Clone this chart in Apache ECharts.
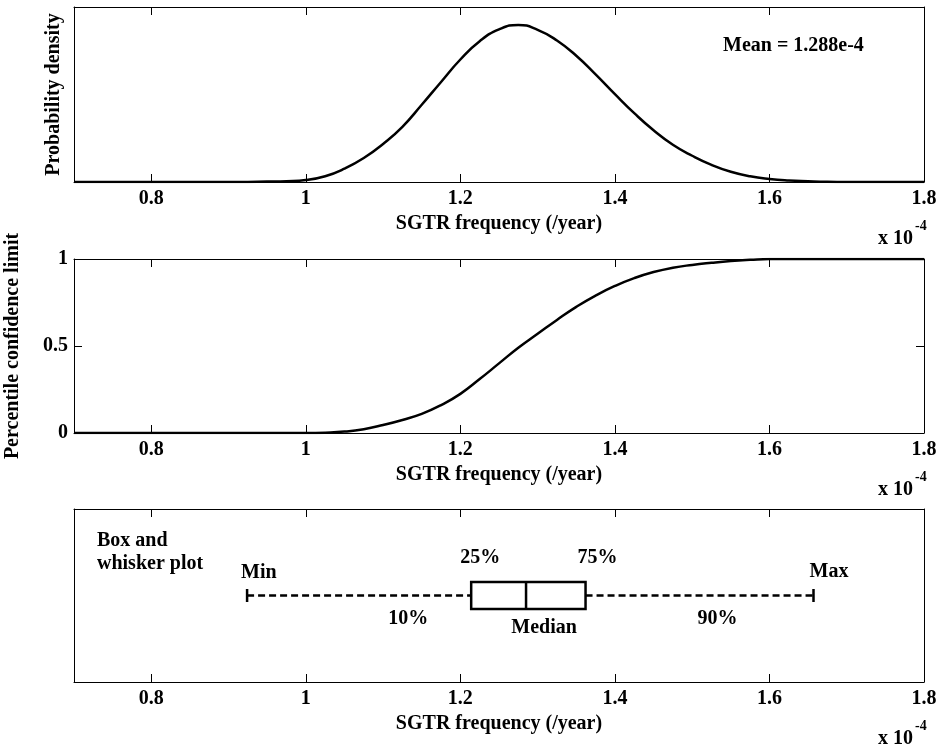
<!DOCTYPE html>
<html><head><meta charset="utf-8">
<script src="https://cdn.jsdelivr.net/npm/echarts@6.0.0/dist/echarts.min.js"></script>
<style>html,body{margin:0;padding:0;background:#fff}#c{width:941px;height:748px}</style>
</head><body><div id="c"></div>
<script>
// SGTR frequency sample points (x 10^-4 /year)
const freq = [0.700,0.725,0.750,0.775,0.800,0.825,0.850,0.875,0.900,0.925,0.950,0.975,
  1.000,1.025,1.050,1.075,1.100,1.125,1.150,1.175,1.200,1.225,1.250,1.275,1.300,1.325,
  1.350,1.375,1.400,1.425,1.450,1.475,1.500,1.525,1.550,1.575,1.600,1.625,1.650,1.675,
  1.700,1.725,1.750,1.775,1.800];
// probability density (relative units)
const density = [0,0,0,0,0,0,0,0,0,0.003,0.01,0.02,
  0.05,0.15,0.35,0.63,1.00,1.45,2.03,2.63,3.22,3.70,4.01,4.13,4.00,3.72,
  3.32,2.83,2.31,1.81,1.36,0.98,0.69,0.45,0.27,0.15,0.08,0.04,0.02,0.005,
  0,0,0,0,0];
// cumulative (percentile confidence limit)
const cdf = [0,0,0,0,0,0,0,0,0,0,0,0,
  0,0.002,0.008,0.022,0.046,0.075,0.11,0.16,0.225,0.31,0.40,0.49,0.57,0.65,
  0.725,0.79,0.845,0.89,0.925,0.95,0.966,0.978,0.988,0.995,1,1,1,1,
  1,1,1,1,1];
// box and whisker: min, 25%, median, 75%, max
const boxStats = [0.924, 1.214, 1.285, 1.362, 1.657];
const boxRow = 0.5;
const meanText = 'Mean = 1.288e-4';
const xName = 'SGTR frequency (/year)';

const chart = echarts.init(document.getElementById('c'), null, {renderer: 'canvas'});
const FONT = '"Liberation Serif", "Times New Roman", serif';
const txt = {fontFamily: FONT, fontWeight: 'bold', fontSize: 20, color: '#000'};
const fontStr = 'bold 20px ' + FONT;

const gridDefs = [
  {left: 74, top: 7, width: 850, height: 175},
  {left: 74, top: 259, width: 850, height: 174},
  {left: 74, top: 509, width: 850, height: 173}
];
const axisLine = {show: true, onZero: false, lineStyle: {color: '#000', width: 1}};

const xAxes = [], yAxes = [];
gridDefs.forEach((g, i) => {
  xAxes.push({type: 'value', gridIndex: i, min: 0.7, max: 1.8, position: 'bottom',
    axisLine, axisTick: {show: true, inside: true, length: 8, lineStyle: {color: '#000'}},
    axisLabel: {...txt, margin: 7, showMinLabel: false},
    splitLine: {show: false},
    name: xName, nameLocation: 'middle', nameGap: 32, nameTextStyle: txt});
  xAxes.push({type: 'value', gridIndex: i, min: 0.7, max: 1.8, position: 'top',
    axisLine, axisTick: {show: true, inside: true, length: 8, lineStyle: {color: '#000'}},
    axisLabel: {show: false}, splitLine: {show: false}});
});
// grid 0
yAxes.push({type: 'value', gridIndex: 0, min: 0, max: 4.6, position: 'left', axisLine,
  axisTick: {show: false}, axisLabel: {show: false}, splitLine: {show: false},
  name: 'Probability density', nameLocation: 'middle', nameGap: 10, nameRotate: 90, nameTextStyle: txt});
yAxes.push({type: 'value', gridIndex: 0, min: 0, max: 4.6, position: 'right', axisLine,
  axisTick: {show: false}, axisLabel: {show: false}, splitLine: {show: false}});
// grid 1
yAxes.push({type: 'value', gridIndex: 1, min: 0, max: 1, interval: 0.5, position: 'left', axisLine,
  axisTick: {show: true, inside: true, length: 8, lineStyle: {color: '#000'}},
  axisLabel: {...txt, margin: 6}, splitLine: {show: false},
  name: 'Percentile confidence limit', nameLocation: 'middle', nameGap: 51, nameRotate: 90, nameTextStyle: txt});
yAxes.push({type: 'value', gridIndex: 1, min: 0, max: 1, interval: 0.5, position: 'right', axisLine,
  axisTick: {show: true, inside: true, length: 8, lineStyle: {color: '#000'}},
  axisLabel: {show: false}, splitLine: {show: false}});
// grid 2
yAxes.push({type: 'value', gridIndex: 2, min: 0, max: 1, position: 'left', axisLine,
  axisTick: {show: false}, axisLabel: {show: false}, splitLine: {show: false}});
yAxes.push({type: 'value', gridIndex: 2, min: 0, max: 1, position: 'right', axisLine,
  axisTick: {show: false}, axisLabel: {show: false}, splitLine: {show: false}});

function boxRender(params, api) {
  const y = api.value(5);
  const pMin = api.coord([api.value(0), y]);
  const pQ1 = api.coord([api.value(1), y]);
  const pMed = api.coord([api.value(2), y]);
  const pQ3 = api.coord([api.value(3), y]);
  const pMax = api.coord([api.value(4), y]);
  const cy = pMin[1];
  const bh = 13.5, ch = 6.5;
  const lineSty = {stroke: '#000', lineWidth: 2.5, fill: null};
  const dashSty = {stroke: '#000', lineWidth: 2.6, lineDash: [7, 4], fill: null};
  const t = (text, x, yy, align) => ({type: 'text', x: x, y: yy,
    style: {text: text, font: fontStr, fill: '#000', align: align || 'center', verticalAlign: 'middle'}});
  return {type: 'group', children: [
    {type: 'line', shape: {x1: pMin[0], y1: cy, x2: pQ1[0], y2: cy}, style: dashSty},
    {type: 'line', shape: {x1: pQ3[0], y1: cy, x2: pMax[0], y2: cy}, style: dashSty},
    {type: 'line', shape: {x1: pMin[0], y1: cy - ch, x2: pMin[0], y2: cy + ch}, style: lineSty},
    {type: 'line', shape: {x1: pMax[0], y1: cy - ch, x2: pMax[0], y2: cy + ch}, style: lineSty},
    {type: 'rect', shape: {x: pQ1[0], y: cy - bh, width: pQ3[0] - pQ1[0], height: 2 * bh}, style: lineSty},
    {type: 'line', shape: {x1: pMed[0], y1: cy - bh, x2: pMed[0], y2: cy + bh}, style: lineSty},
    t('Min', pMin[0] - 6, cy - 23, 'left'),
    t('Max', pMax[0] - 4, cy - 24, 'left'),
    t('25%', pQ1[0] + 9, cy - 38),
    t('75%', pQ3[0] + 12, cy - 38),
    t('Median', pMed[0] + 18, cy + 32),
    t('10%', pQ1[0] - 63, cy + 23),
    t('90%', pQ3[0] + 132, cy + 23)
  ]};
}

const graphics = [
  {type: 'text', left: 723, top: 36, style: {text: meanText, font: fontStr, fill: '#000'}},
  {type: 'text', left: 97, top: 531, style: {text: 'Box and', font: fontStr, fill: '#000'}},
  {type: 'text', left: 97, top: 554, style: {text: 'whisker plot', font: fontStr, fill: '#000'}}
];
gridDefs.forEach(g => {
  const b = g.top + g.height;
  graphics.push({type: 'text', left: 878, top: b + 47, style: {text: 'x 10', font: fontStr, fill: '#000'}});
  graphics.push({type: 'text', left: 915, top: b + 37, style: {text: '-4', font: 'bold 14px ' + FONT, fill: '#000'}});
});

chart.setOption({
  animation: false,
  backgroundColor: '#fff',
  grid: gridDefs.map(g => ({...g, containLabel: false, outerBoundsMode: 'none'})),
  xAxis: xAxes,
  yAxis: yAxes,
  graphic: graphics,
  series: [
    {type: 'line', xAxisIndex: 0, yAxisIndex: 0, data: freq.map((x, i) => [x, density[i]]),
      showSymbol: false, smooth: 0.5, lineStyle: {color: '#000', width: 2.5}},
    {type: 'line', xAxisIndex: 2, yAxisIndex: 2, data: freq.map((x, i) => [x, cdf[i]]),
      showSymbol: false, smooth: 0.5, lineStyle: {color: '#000', width: 2.5}},
    {type: 'custom', xAxisIndex: 4, yAxisIndex: 4, data: [[...boxStats, boxRow]],
      renderItem: boxRender}
  ]
});
</script></body></html>
